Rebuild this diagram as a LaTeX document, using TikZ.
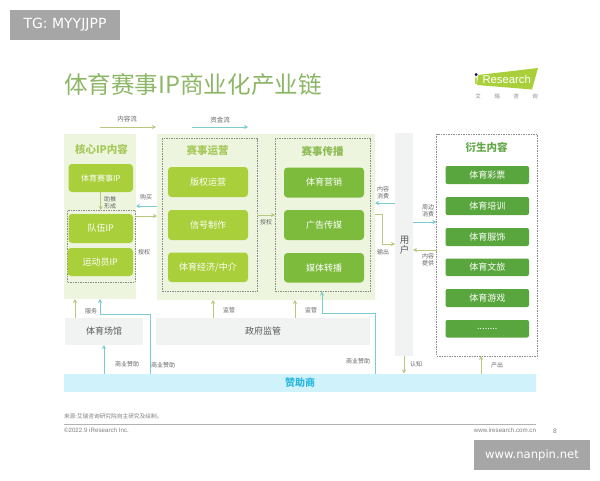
\documentclass[tikz,border=0pt]{standalone}
\usepackage{fontspec}
\setmainfont{Noto Sans CJK SC}
\newfontfamily\wmfont{DejaVu Sans}
\newfontfamily\latinfont{Liberation Sans}
\usetikzlibrary{arrows.meta}
\definecolor{titlegreen}{HTML}{8DB766}
\definecolor{panelgreen}{HTML}{EEF5DE}
\definecolor{limebox}{HTML}{A9CF3A}
\definecolor{midbox}{HTML}{7DBB3C}
\definecolor{darkbox}{HTML}{5AA63E}
\definecolor{heada}{HTML}{A6C95C}
\definecolor{headb}{HTML}{8DBB55}
\definecolor{headc}{HTML}{62A848}
\definecolor{olivearrow}{HTML}{BAC77F}
\definecolor{tealarrow}{HTML}{7CCAD2}
\definecolor{greybox}{HTML}{F1F2F2}
\definecolor{sponsorbar}{HTML}{CFF2FB}
\definecolor{sponsortext}{HTML}{2DB8E0}
\definecolor{wmgrey}{HTML}{A6A6A6}
\definecolor{lbl}{HTML}{666666}
\tikzset{
  every node/.style={inner sep=0pt,outer sep=0pt},
  panel/.style={fill=panelgreen},
  dashbox/.style={draw=black!45,line width=.6pt,dash pattern=on 1.5pt off 1pt},
  lime/.style={fill=limebox,rounded corners=3.5pt,text=white,font=\fontsize{9}{10}\selectfont},
  mid/.style={fill=midbox,rounded corners=3.5pt,text=white,font=\fontsize{9}{10}\selectfont},
  dark/.style={fill=darkbox,rounded corners=2pt,text=white,font=\fontsize{9}{10}\selectfont},
  grey/.style={fill=greybox,text=black!65,font=\fontsize{9}{10}\selectfont},
  small/.style={text=lbl,font=\fontsize{6}{7}\selectfont,align=center},
  olv/.style={draw=olivearrow,line width=.8pt,-{Stealth[length=4pt,width=4pt]}},
  tea/.style={draw=tealarrow,line width=.8pt,-{Stealth[length=4pt,width=4pt]}},
  head/.style={font=\fontsize{10.5}{12}\selectfont\bfseries},
  wm/.style={fill=wmgrey,text=white},
  logolabel/.style={text=black!45,font=\fontsize{5.5}{7}\selectfont},
  foot/.style={text=black!50,font=\latinfont\fontsize{6.2}{7}\selectfont},
}
\newcommand{\bx}[6][]{%
  \pgfmathsetmacro\bw{#5-#3}\pgfmathsetmacro\bh{#6-#4}%
  \pgfmathsetmacro\bcx{(#3+#5)/2}\pgfmathsetmacro\bcy{(#4+#6)/2}%
  \node[#1,minimum width=\bw pt,minimum height=\bh pt] (#2) at (\bcx,\bcy)}
\begin{document}
\begin{tikzpicture}[x=1pt,y=-1pt]
\useasboundingbox[fill=white] (0,0) rectangle (600,480);
% watermarks
\bx[wm,font=\wmfont\fontsize{14}{16}\selectfont]{tg}{10}{10}{120}{40} {TG: MYYJJPP};
\bx[wm,font=\wmfont\fontsize{11.6}{14}\selectfont]{np}{474}{440}{590}{470} {www.nanpin.net};
% title
\node[anchor=west,text=titlegreen,font=\fontsize{23.6}{26}\selectfont] (title) at (64,84.5) {体育赛事IP商业化产业链};
% logo
\fill[limebox] (478,75) -- (538,68) -- (532,89.5) -- (477,85) -- cycle;
\node[text=white,font=\latinfont\fontsize{11.3}{14}\selectfont,anchor=west] (logo) at (482.5,79.5) {Research};
\node[text=limebox,font=\latinfont\bfseries\fontsize{12}{12}\selectfont] (logoi) at (476,80) {i};
\fill[black!65!blue] (476,74.5) circle (1.5);
\node[logolabel] (l1) at (478,96) {艾};
\node[logolabel] (l2) at (497,96) {瑞};
\node[logolabel] (l3) at (516,96) {咨};
\node[logolabel] (l4) at (535,96) {询};
% legend
\node[small,font=\fontsize{6.5}{8}\selectfont] (flowa) at (127,119.5) {内容流};
\node[small,font=\fontsize{6.5}{8}\selectfont] (flowb) at (220,120) {资金流};
\coordinate (fa1) at (100,127); \coordinate (fa2) at (156,127);
\coordinate (fb1) at (192,127); \coordinate (fb2) at (248,127);
\draw[olv] (fa1) -- (fa2);
\draw[tea] (fb1) -- (fb2);
% panels
\bx[panel]{core}{64}{134}{136}{299} {};
\bx[panel]{ops}{157}{134}{375}{300} {};
\bx[fill=greybox]{user}{395}{133}{413}{356} {};
\node[text=black!65,font=\fontsize{9.5}{10}\selectfont,align=center] (usertext) at (404.5,245.5) {用\\户};
\bx[dashbox]{deriv}{436.5}{134}{537}{356} {};
% core
\node[head,text=heada] (coreh) at (101.5,149) {核心IP内容};
\bx[lime,font=\fontsize{8}{10}\selectfont]{evip}{68.5}{164}{133}{192} {体育赛事IP};
\bx[dashbox]{ipgrp}{67.5}{210}{135}{282} {};
\bx[lime]{team}{68.5}{214}{133}{243} {队伍IP};
\bx[lime]{athl}{67.5}{248}{133}{276} {运动员IP};
% ops
\bx[dashbox]{opsa}{162}{138.5}{257}{291.5} {};
\bx[dashbox]{opsb}{275}{138.5}{370}{291.5} {};
\node[head,text=heada] (opsah) at (207.5,150) {赛事运营};
\node[head,text=headb] (opsbh) at (322.5,151) {赛事传播};
\bx[lime]{o1}{168}{167}{248}{197} {版权运营};
\bx[lime]{o2}{168}{210}{248}{240} {信号制作};
\bx[lime]{o3}{168}{252.5}{248}{282} {体育经济/中介};
\bx[mid]{m1}{284}{167.5}{364}{197.5} {体育营销};
\bx[mid]{m2}{284}{210}{364}{240} {广告传媒};
\bx[mid]{m3}{284}{253}{364}{282.5} {媒体转播};
% derivatives
\node[head,text=headc] (derivh) at (486.5,147) {衍生内容};
\bx[dark]{d1}{445.5}{166}{529}{184} {体育彩票};
\bx[dark]{d2}{445.5}{197}{529}{215} {体育培训};
\bx[dark]{d3}{445.5}{228}{529}{246} {体育服饰};
\bx[dark]{d4}{445.5}{258.5}{529}{276} {体育文旅};
\bx[dark]{d5}{445.5}{289}{529}{307} {体育游戏};
\bx[dark]{d6}{445.5}{320}{529}{337.5} {........};
% bottom
\bx[grey]{venue}{65}{318}{143}{345} {体育场馆};
\bx[grey]{gov}{156}{318}{370}{345} {政府监管};
\bx[fill=sponsorbar,text=sponsortext,font=\fontsize{10}{13}\selectfont\bfseries]{spons}{64}{373.5}{536}{392} {赞助商};
% connectors
\draw[olv] (evip.south) -- (ipgrp.north -| evip.south);
\node[small] (t1) at (110,202.5) {助推\\形成};
\draw[tea] (ops.west |- 0,206) -- (core.east |- 0,206);
\node[small] (t2) at (146,197) {购买};
\draw[olv] (core.east |- 0,216) -- (ops.west |- 0,216);
\node[small] (t3) at (144,252) {授权};
\draw[olv] (opsa.east |- 0,215) -- (opsb.west |- 0,215);
\node[small] (t4) at (266,222.5) {授权};
\draw[tea] (user.west |- 0,203) -- (ops.east |- 0,203);
\node[small] (t5) at (383,193) {内容\\消费};
\draw[olv] (ops.east |- 0,214) -- (382,214) -- (382,244) -- (user.west |- 0,244);
\node[small] (t6) at (383,252) {输出};
\draw[tea] (user.east |- 0,222) -- (deriv.west |- 0,222);
\node[small] (t7) at (428,210.5) {周边\\消费};
\draw[olv] (deriv.west |- 0,250) -- (user.east |- 0,250);
\node[small] (t8) at (428,260) {内容\\提供};
\draw[olv] (venue.north -| 75,0) -- (core.south -| 75,0);
\draw[tea] (spons.north -| 150,0) -- (150,314) -- (100,314) -- (core.south -| 100,0);
\node[small] (t9) at (91,311) {服务};
\draw[tea] (spons.north -| 104,0) -- (venue.south -| 104,0);
\node[small] (t10) at (127,364) {商业赞助};
\node[small] (t11) at (163,365) {商业赞助};
\draw[olv] (gov.north -| 213,0) -- (ops.south -| 213,0);
\node[small] (t12) at (229,310) {监管};
\draw[olv] (gov.north -| 295,0) -- (ops.south -| 295,0);
\node[small] (t13) at (311,310) {监管};
\draw[tea] (spons.north -| 375,0) -- (375,313) -- (322,313) -- (opsb.south -| 322,0);
\node[small] (t14) at (358,361) {商业赞助};
\draw[olv] (user.south) -- (spons.north -| user.south);
\node[small] (t15) at (416,364) {认知};
\draw[olv] (spons.north -| 481,0) -- (deriv.south -| 481,0);
\node[small] (t16) at (497,365) {产出};
% footer
\node[anchor=west,text=black!50,font=\fontsize{5.7}{7}\selectfont] (src) at (64,416) {来源:艾瑞咨询研究院自主研究及绘制。};
\coordinate (fl1) at (64,424); \coordinate (fl2) at (536,424);
\draw[black!30,line width=.6pt] (fl1) -- (fl2);
\node[anchor=west,foot] (copy) at (64,430) {©2022.9 iResearch Inc.};
\node[anchor=east,foot] (web) at (536,430) {www.iresearch.com.cn};
\node[text=black!50,font=\latinfont\fontsize{6.5}{7}\selectfont] (pg) at (555,431) {8};
\end{tikzpicture}
\end{document}
